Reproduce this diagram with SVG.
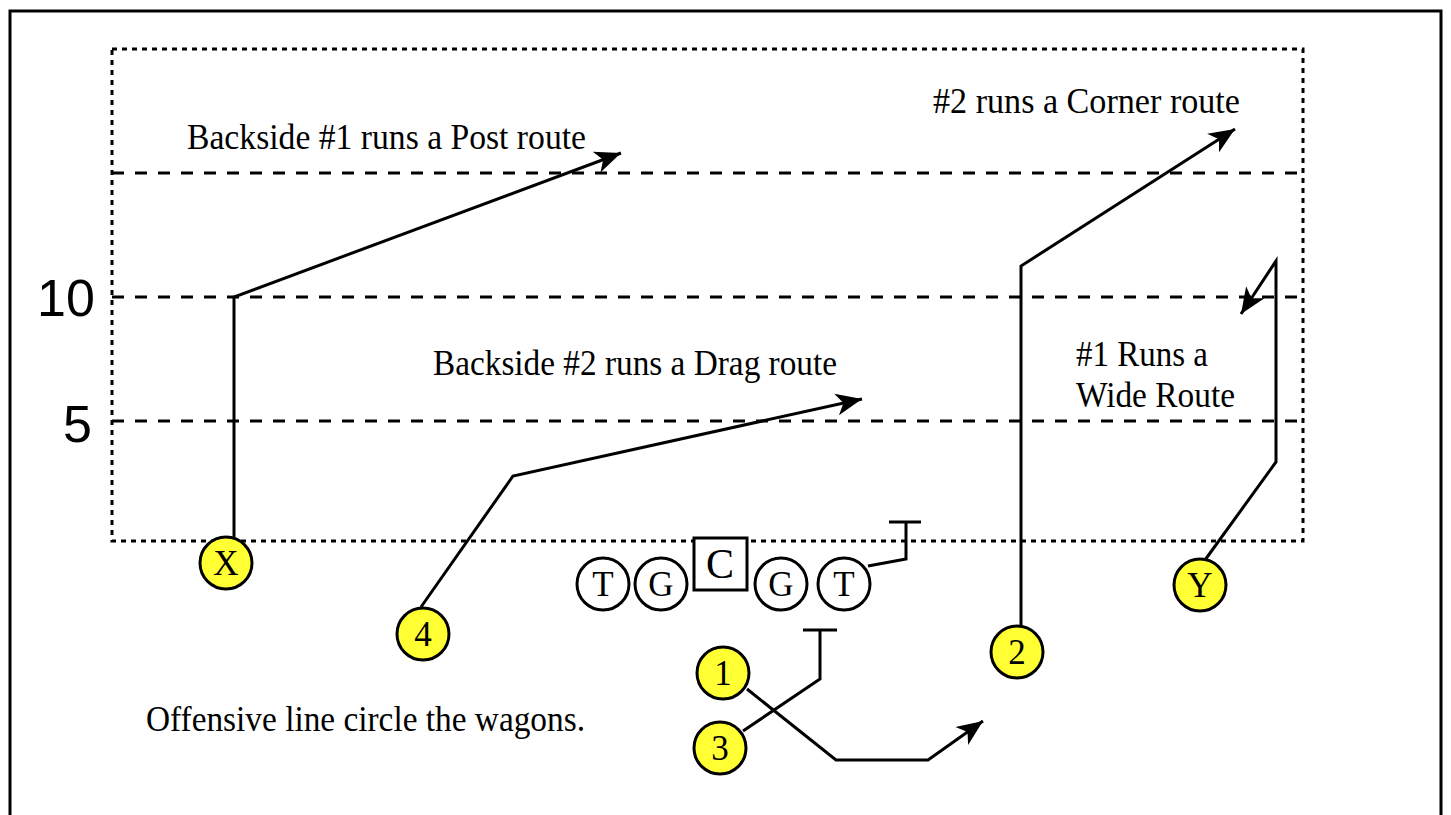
<svg xmlns="http://www.w3.org/2000/svg" width="1451" height="815" viewBox="0 0 1451 815">
<style>
.ln{fill:none;stroke:#000;stroke-width:3;stroke-linejoin:miter}
.dot{fill:none;stroke:#000;stroke-width:3;stroke-dasharray:5 5}
.dash{fill:none;stroke:#000;stroke-width:3;stroke-dasharray:12 11}
.pl{fill:#FFFF33;stroke:#000;stroke-width:3}
.ol{fill:#fff;stroke:#000;stroke-width:3}
.t{font-family:"Liberation Serif","Times New Roman",serif;font-size:35px;fill:#000}
.c{font-family:"Liberation Serif","Times New Roman",serif;font-size:35px;fill:#000;text-anchor:middle}
.n{font-family:"Liberation Sans",Arial,sans-serif;font-size:52px;fill:#000}
</style>
<defs>
<marker id="arr" markerUnits="userSpaceOnUse" markerWidth="28" markerHeight="24" refX="26" refY="12" orient="auto" overflow="visible">
<path d="M26,12 L0,1 L7,12 L0,23 Z" fill="#000"/>
</marker>
</defs>
<rect x="0" y="0" width="1451" height="815" fill="#fff"/>
<rect x="10" y="11" width="1431" height="830" fill="none" stroke="#000" stroke-width="3"/>
<g id="field">
<rect x="112" y="49" width="1191" height="492" class="dot"/>
<line x1="112" y1="173" x2="1303" y2="173" class="dash"/>
<line x1="112" y1="297" x2="1303" y2="297" class="dash"/>
<line x1="112" y1="421" x2="1303" y2="421" class="dash"/>
<text class="n" x="37" y="316">10</text>
<text class="n" x="63" y="442">5</text>
</g>
<g id="labels">
<text class="t" x="187" y="149" textLength="399" lengthAdjust="spacingAndGlyphs">Backside #1 runs a Post route</text>
<text class="t" x="933" y="113" textLength="307" lengthAdjust="spacingAndGlyphs">#2 runs a Corner route</text>
<text class="t" x="433" y="375" textLength="404" lengthAdjust="spacingAndGlyphs">Backside #2 runs a Drag route</text>
<text class="t" x="1076" y="366" textLength="132" lengthAdjust="spacingAndGlyphs">#1 Runs a</text>
<text class="t" x="1076" y="407" textLength="159" lengthAdjust="spacingAndGlyphs">Wide Route</text>
<text class="t" x="146" y="731" textLength="439" lengthAdjust="spacingAndGlyphs">Offensive line circle the wagons.</text>
</g>
<g id="connectors">
<path class="ln" d="M234,537 L234,297 L621,153" marker-end="url(#arr)"/>
<path class="ln" d="M421,607 L513,476 L862,399" marker-end="url(#arr)"/>
<path class="ln" d="M1021,626 L1021,266 L1235,129" marker-end="url(#arr)"/>
<path class="ln" d="M1205,560 L1276,462 L1276,261 L1241,314" marker-end="url(#arr)"/>
<path class="ln" d="M747,689 L836,760 L928,760 L983,721" marker-end="url(#arr)"/>
<path class="ln" d="M743,731 L820,679 L820,630 M803,630 L837,630"/>
<path class="ln" d="M868,566 L906,559 L906,522 M889,522 L921,522"/>
</g>
<g id="player-X"><circle class="pl" cx="226" cy="563" r="26"/><text class="c" x="226" y="575">X</text></g>
<g id="player-4"><circle class="pl" cx="423" cy="634" r="26"/><text class="c" x="423" y="646">4</text></g>
<g id="player-1"><circle class="pl" cx="723" cy="673" r="26"/><text class="c" x="723" y="685">1</text></g>
<g id="player-3"><circle class="pl" cx="720" cy="748" r="26"/><text class="c" x="720" y="760">3</text></g>
<g id="player-2"><circle class="pl" cx="1017" cy="652" r="26"/><text class="c" x="1017" y="664">2</text></g>
<g id="player-Y"><circle class="pl" cx="1200" cy="585" r="26"/><text class="c" x="1200" y="597">Y</text></g>
<g id="ol-LT"><circle class="ol" cx="603" cy="584" r="26"/><text class="c" x="603" y="596">T</text></g>
<g id="ol-LG"><circle class="ol" cx="661" cy="584" r="26"/><text class="c" x="661" y="596">G</text></g>
<g id="ol-C"><rect class="ol" x="694" y="538" width="53" height="52"/><text class="c" x="720" y="578" style="font-size:42px">C</text></g>
<g id="ol-RG"><circle class="ol" cx="781" cy="584" r="26"/><text class="c" x="781" y="596">G</text></g>
<g id="ol-RT"><circle class="ol" cx="844" cy="584" r="26"/><text class="c" x="844" y="596">T</text></g>
</svg>
